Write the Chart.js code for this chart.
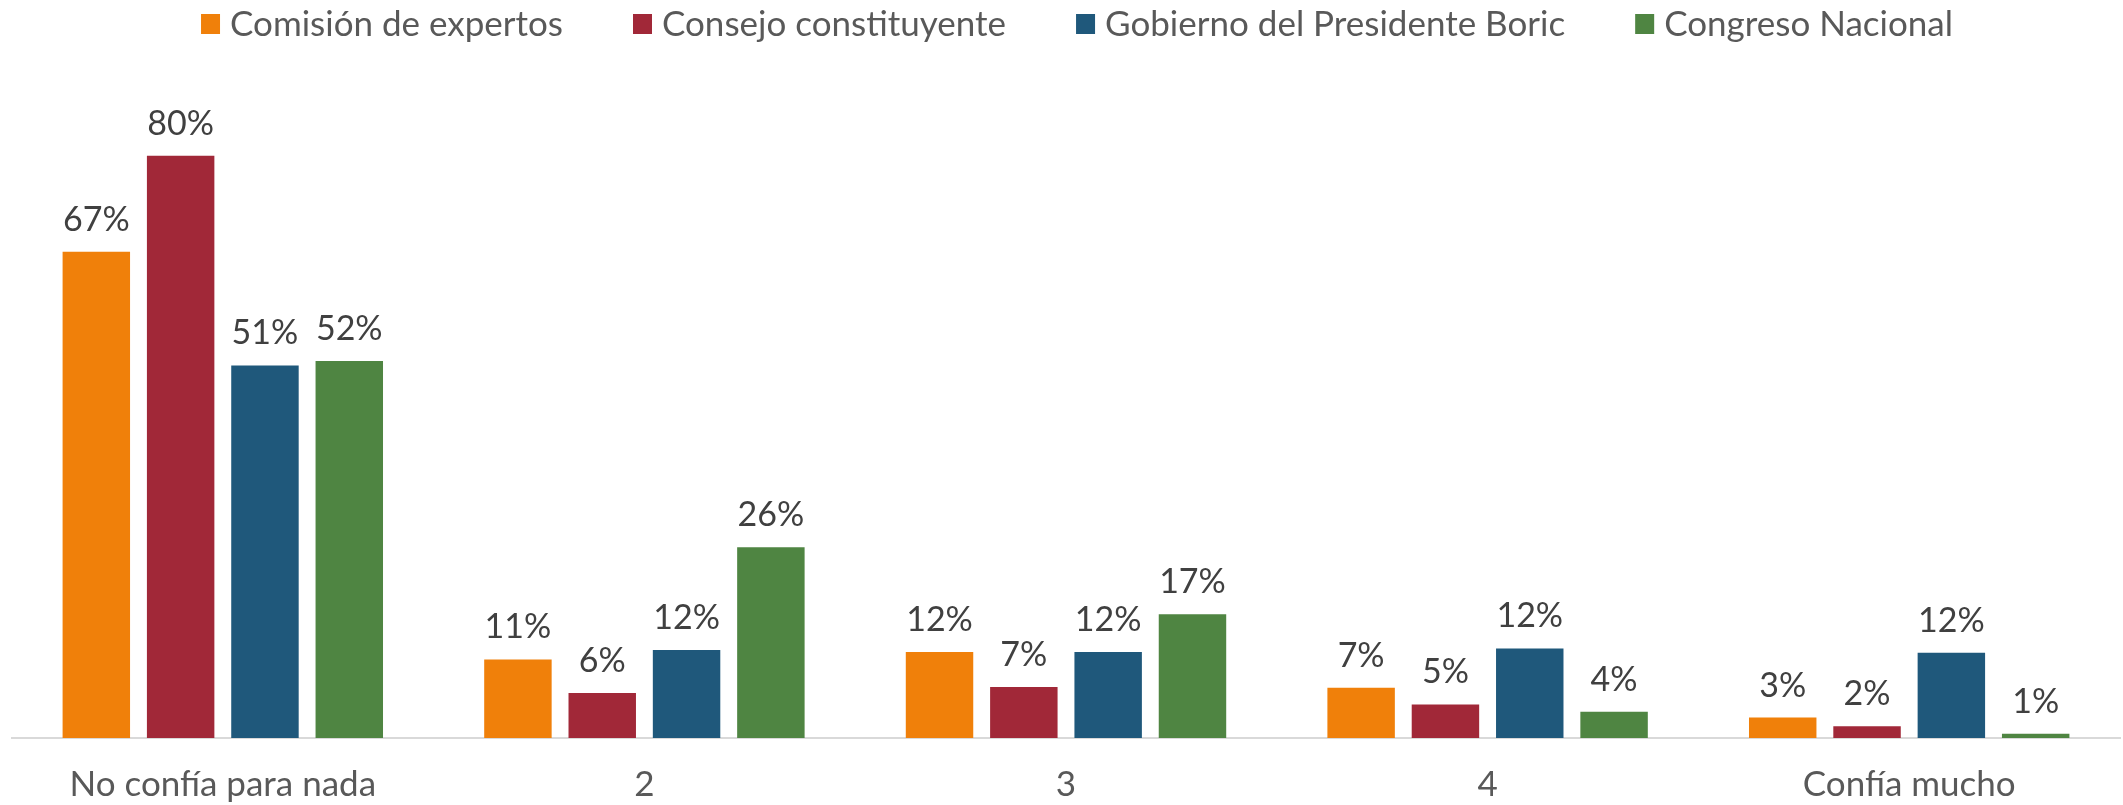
<!DOCTYPE html>
<html>
<head>
<meta charset="utf-8">
<script src="https://cdn.jsdelivr.net/npm/chart.js@4"></script>
<style>
  html, body { margin: 0; padding: 0; background: #fff; }
  #wrap { width: 2123px; height: 805px; }
</style>
</head>
<body>
<div id="wrap"><canvas id="chart" width="2123" height="805"></canvas></div>
<script>
// categorías y series
const categories = ['No confía para nada', '2', '3', '4', 'Confía mucho'];
const seriesNames = ['Comisión de expertos', 'Consejo constituyente', 'Gobierno del Presidente Boric', 'Congreso Nacional'];
const comision = [66.8, 10.8, 11.8, 6.9, 2.8];
const consejo = [80.0, 6.2, 7.0, 4.6, 1.6];
const gobierno = [51.2, 12.1, 11.8, 12.3, 11.7];
const congreso = [51.8, 26.2, 17.0, 3.6, 0.6];
const colors = ['#F0800A', '#A12838', '#1F587B', '#4F8542'];

const FONT = 'Lato, "Open Sans", sans-serif';

// etiquetas de valor encima de cada barra
const valueLabels = {
    id: 'valueLabels',
    afterDatasetsDraw(chart) {
        const ctx = chart.ctx;
        ctx.save();
        ctx.font = '34px ' + FONT;
        ctx.fillStyle = '#404040';
        ctx.textAlign = 'center';
        ctx.textBaseline = 'middle';
        chart.data.datasets.forEach((ds, i) => {
            chart.getDatasetMeta(i).data.forEach((bar, j) => {
                ctx.fillText(Math.round(ds.data[j]) + '%', bar.x, bar.y - 32);
            });
        });
        ctx.restore();
    }
};

// leyenda dibujada a mano para controlar espacios
const topLegend = {
    id: 'topLegend',
    afterDraw(chart) {
        const ctx = chart.ctx;
        ctx.save();
        ctx.font = '35px ' + FONT;
        ctx.textBaseline = 'middle';
        const boxW = 19, boxH = 20, gap = 10, itemGap = 70;
        const widths = chart.data.datasets.map(ds => boxW + gap + ctx.measureText(ds.label).width);
        const total = widths.reduce((a, b) => a + b, 0) + itemGap * (widths.length - 1);
        let x = 1077 - total / 2;
        const y = 24;
        chart.data.datasets.forEach((ds, i) => {
            ctx.fillStyle = ds.backgroundColor;
            ctx.fillRect(x, y - boxH / 2, boxW, boxH);
            ctx.fillStyle = '#595959';
            ctx.fillText(ds.label, x + boxW + gap, y + 1);
            x += widths[i] + itemGap;
        });
        ctx.restore();
    }
};

const allSeries = [comision, consejo, gobierno, congreso];

new Chart(document.getElementById('chart'), {
    type: 'bar',
    data: {
        labels: categories,
        datasets: allSeries.map((d, i) => ({
            label: seriesNames[i],
            data: d,
            backgroundColor: colors[i],
            borderWidth: 0
        }))
    },
    options: {
        responsive: false,
        animation: false,
        layout: { padding: { top: 83, left: 12, right: 3, bottom: 0 } },
        plugins: {
            legend: { display: false },
            tooltip: { enabled: false }
        },
        datasets: { bar: { categoryPercentage: 0.8, barPercentage: 0.8 } },
        scales: {
            x: {
                grid: { display: false, drawTicks: false },
                border: { display: true, color: '#D9D9D9', width: 2 },
                ticks: { color: '#595959', padding: 29, maxRotation: 0, font: { family: FONT, size: 35, lineHeight: 1 } },
                afterFit(scale) { scale.height = 67; }
            },
            y: { display: false, min: 0, max: 90 }
        }
    },
    plugins: [valueLabels, topLegend]
});
</script>
</body>
</html>
